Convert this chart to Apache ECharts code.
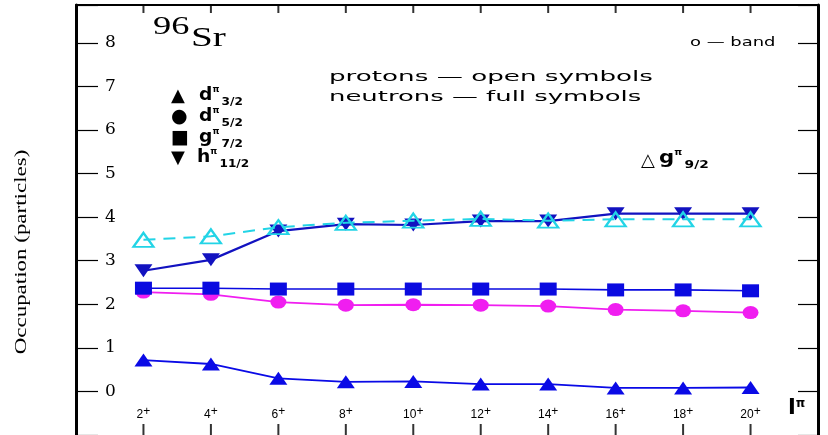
<!DOCTYPE html>
<html><head><meta charset="utf-8">
<script src="https://cdn.jsdelivr.net/npm/echarts@6/dist/echarts.min.js"></script>
<style>html,body{margin:0;padding:0;background:#fff}#c{width:828px;height:435px}</style>
</head><body><div id="c"></div>
<script>
// ---- data ----
const spins = [2, 4, 6, 8, 10, 12, 14, 16, 18, 20];
const xTickLabels = ['2', '4', '6', '8', '10', '12', '14', '16', '18', '20'];
const yTickLabels = ['0', '1', '2', '3', '4', '5', '6', '7', '8'];
const protonG92  = [3.48, 3.56, 3.77, 3.87, 3.92, 3.96, 3.92, 3.95, 3.95, 3.95];
const neutronH112 = [2.77, 3.02, 3.68, 3.84, 3.82, 3.91, 3.91, 4.08, 4.08, 4.08];
const neutronG72 = [2.37, 2.37, 2.35, 2.35, 2.35, 2.35, 2.35, 2.33, 2.33, 2.31];
const neutronD52 = [2.28, 2.23, 2.05, 1.98, 1.99, 1.98, 1.96, 1.88, 1.85, 1.81];
const neutronD32 = [0.72, 0.63, 0.30, 0.22, 0.23, 0.17, 0.17, 0.08, 0.08, 0.09];
const yMin = -1, yMax = 8.87;

const pairs = arr => spins.map((s, i) => [s, arr[i]]);
const chart = echarts.init(document.getElementById('c'), null, {renderer: 'canvas'});

const SANS = 'DejaVu Sans';
const SERIF = 'DejaVu Serif';

function txt(x, y, text, font, extra) {
  return Object.assign({
    type: 'text', x: x, y: y, z: 100,
    style: Object.assign({text: text, font: font, fill: '#000', align: 'left', verticalAlign: 'middle'}, (extra && extra.style) || {})
  }, extra && extra.el || {});
}
function label(x, y, main, sup, sub, scale) {
  return {
    type: 'text', x: x, y: y, z: 100, scaleX: scale,
    style: {
      text: '{m|' + main + '}{p|' + sup + '}{s|' + sub + '}',
      align: 'left', verticalAlign: 'middle', fill: '#000',
      rich: {
        m: {font: 'bold 17px ' + SANS, lineHeight: 24, verticalAlign: 'middle'},
        p: {font: 'bold 8px ' + SANS, lineHeight: 10, verticalAlign: 'top', padding: [2, 1, 0, 0]},
        s: {font: 'bold 11px ' + SANS, lineHeight: 14, verticalAlign: 'bottom', padding: [0, 0, 0, 1]}
      }
    }
  };
}

const xCommon = {type: 'value', min: 0, max: 22, interval: 2, splitLine: {show: false}};

const option = {
  backgroundColor: '#fff',
  animation: false,
  grid: [
    {left: 76, right: 10, top: 5, height: 431, containLabel: false},
    {left: 76, right: 10, top: 5, height: 428, containLabel: false}
  ],
  xAxis: [
    Object.assign({}, xCommon, {
      gridIndex: 0, position: 'bottom',
      axisLine: {show: false, onZero: false}, axisTick: {show: false}, axisLabel: {show: false}
    }),
    Object.assign({}, xCommon, {
      gridIndex: 0, position: 'top',
      axisLine: {show: true, onZero: false, lineStyle: {color: '#000', width: 2}},
      axisTick: {show: false},
      axisLabel: {show: false}
    }),
    Object.assign({}, xCommon, {
      gridIndex: 1, position: 'bottom',
      axisLine: {show: false, onZero: false},
      axisTick: {show: false},
      axisLabel: {
        show: true, inside: true, margin: 12, color: '#000',
        formatter: v => {
          const i = spins.indexOf(v);
          return i >= 0 ? '{n|' + xTickLabels[i] + '}{s|+}' : '';
        },
        rich: {
          n: {font: '13px ' + SANS, lineHeight: 15, verticalAlign: 'bottom'},
          s: {font: 'bold 9px ' + SANS, lineHeight: 15, verticalAlign: 'top'}
        }
      }
    })
  ],
  yAxis: [{
    gridIndex: 0, type: 'value', position: 'left', min: yMin, max: yMax, interval: 1,
    axisLine: {show: true, onZero: false, lineStyle: {color: '#000', width: 3}},
    axisTick: {show: true, inside: true, length: 22, lineStyle: {color: '#000', width: 1.2}},
    axisLabel: {
      show: true, inside: true, margin: 29, color: '#000',
      fontFamily: SERIF, fontSize: 17,
      formatter: v => {
        const i = yTickLabels.indexOf(String(v));
        return i >= 0 ? yTickLabels[i] : '';
      }
    },
    splitLine: {show: false}
  }, {
    gridIndex: 0, type: 'value', position: 'right', min: yMin, max: yMax, interval: 1,
    axisLine: {show: true, onZero: false, lineStyle: {color: '#000', width: 3}},
    axisTick: {show: true, inside: true, length: 20, lineStyle: {color: '#000', width: 1.2}},
    axisLabel: {show: false},
    splitLine: {show: false}
  }, {
    gridIndex: 1, type: 'value', min: 0, max: 1, show: false
  }],
  series: [
    {
      name: 'bottom ticks', type: 'scatter', silent: true, clip: false,
      data: spins.map(s => [s, yMin]),
      symbol: 'rect', symbolSize: [2, 11], symbolOffset: [0, -5.5],
      itemStyle: {color: '#000'}, z: 1
    },
    {
      name: 'top ticks', type: 'scatter', silent: true, clip: false,
      data: spins.map(s => [s, yMax]),
      symbol: 'rect', symbolSize: [2, 8], symbolOffset: [0, 4],
      itemStyle: {color: '#000'}, z: 1
    },
    {
      name: 'd3/2', type: 'line', data: pairs(neutronD32),
      symbol: 'triangle', symbolSize: [18, 13],
      lineStyle: {color: '#0a0ae6', width: 1.8},
      itemStyle: {color: '#0a0ae6'}, z: 3
    },
    {
      name: 'd5/2', type: 'line', data: pairs(neutronD52),
      symbol: 'circle', symbolSize: [16, 13],
      lineStyle: {color: '#f01ef0', width: 1.8},
      itemStyle: {color: '#f01ef0'}, z: 3
    },
    {
      name: 'g7/2', type: 'line', data: pairs(neutronG72),
      symbol: 'rect', symbolSize: [17, 13],
      lineStyle: {color: '#0a0ae0', width: 1.6},
      itemStyle: {color: '#0a0ae0'}, z: 4
    },
    {
      name: 'h11/2', type: 'line', data: pairs(neutronH112),
      symbol: 'triangle', symbolRotate: 180, symbolSize: [18, 13],
      lineStyle: {color: '#1212c0', width: 2.2},
      itemStyle: {color: '#1212c0'}, z: 4
    },
    {
      name: 'g9/2 protons', type: 'line', data: pairs(protonG92),
      symbol: 'triangle', symbolSize: [20, 14],
      lineStyle: {color: '#22d4e6', width: 2, type: [12, 8]},
      itemStyle: {color: 'rgba(255,255,255,0)', borderColor: '#22d4e6', borderWidth: 2.2}, z: 5
    }
  ],
  graphic: [
    // nucleus label
    txt(153, 27, '96', '26px Liberation Serif', {el: {scaleX: 1.4}}),
    txt(191, 39, 'Sr', '28px Liberation Serif', {el: {scaleX: 1.4}}),
    // band note
    txt(690, 43, 'o \u2014 band', '13px ' + SANS, {el: {scaleX: 1.38}}),
    // protons / neutrons note
    txt(329, 77, 'protons \u2014 open symbols', '14px ' + SANS, {el: {scaleX: 1.87}}),
    txt(329, 97, 'neutrons \u2014 full symbols', '14px ' + SANS, {el: {scaleX: 1.85}}),
    // legend symbols
    txt(171, 96, '\u25B2', '18px ' + SANS),
    txt(171, 117, '\u25CF', '19px ' + SANS),
    txt(171, 138, '\u25A0', '19px ' + SANS),
    txt(171, 158, '\u25BC', '18px ' + SANS),
    label(199, 96, 'd', '\u03C0', '3/2', 1.1),
    label(199, 117, 'd', '\u03C0', '5/2', 1.1),
    label(199, 138, 'g', '\u03C0', '7/2', 1.1),
    label(197, 158, 'h', '\u03C0', '11/2', 1.1),
    // Delta g9/2 note
    txt(641, 161, '\u25B3', '18px ' + SANS),
    label(659, 159, 'g', '\u03C0', '9/2', 1.25),
    // I^pi
    {
      type: 'text', x: 788, y: 409, z: 100,
      style: {
        text: '{m|I}{p|\u03C0}', align: 'left', verticalAlign: 'middle', fill: '#000',
        rich: {
          m: {font: 'bold 21px ' + SANS, lineHeight: 22},
          p: {font: 'bold 12px ' + SANS, lineHeight: 12, verticalAlign: 'top'}
        }
      }
    },
    // y-axis title
    {
      type: 'text', x: 22, y: 252, rotation: Math.PI / 2, scaleX: 1.35, z: 100,
      style: {text: 'Occupation (particles)', font: '17px Liberation Serif', fill: '#000', align: 'center', verticalAlign: 'middle'}
    }
  ]
};
chart.setOption(option);
</script>
</body></html>
